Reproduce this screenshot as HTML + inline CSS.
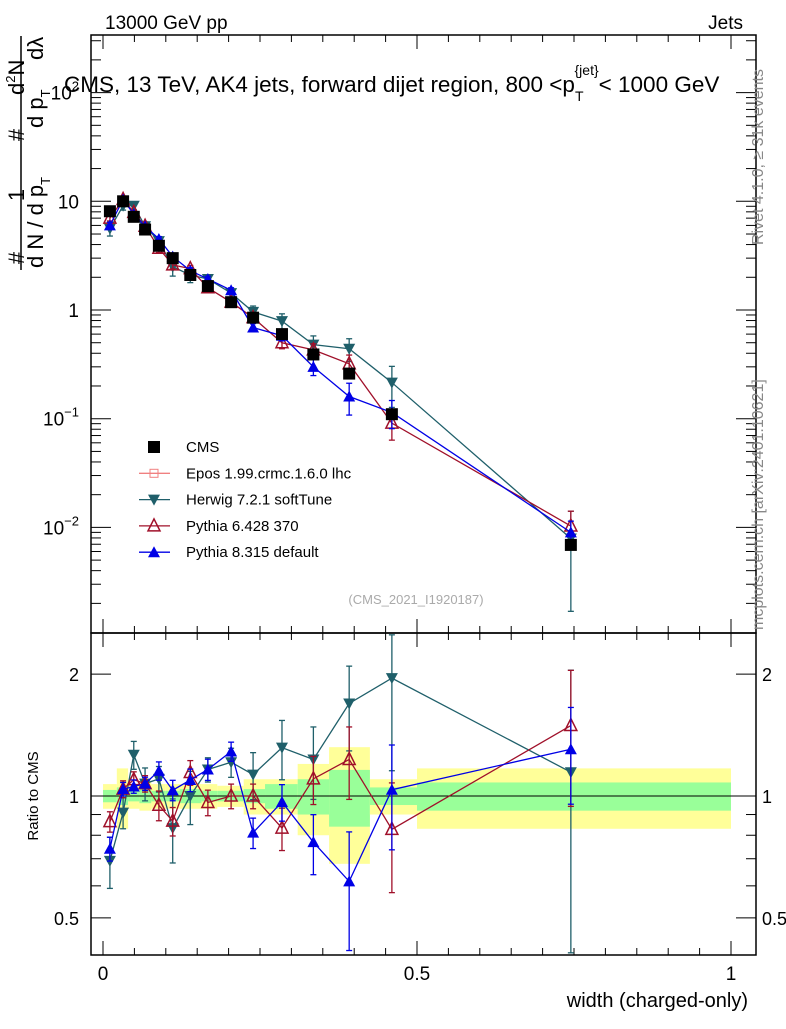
<!DOCTYPE html>
<html><head><meta charset="utf-8"><style>
body{margin:0;background:#fff}
svg text{font-family:"Liberation Sans",sans-serif}
</style></head><body>
<svg id="c" width="786" height="1024" viewBox="0 0 786 1024" xmlns="http://www.w3.org/2000/svg">
<rect width="786" height="1024" fill="#fff"/>
<g id="bands"></g>
<g id="axes"></g>
<g id="marks"></g>
<text x="105" y="29" font-size="19">13000 GeV pp</text>
<text x="743" y="29" font-size="19" text-anchor="end">Jets</text>
<text x="64" y="92" font-size="22.5">CMS, 13 TeV, AK4 jets, forward dijet region, 800 &lt;p<tspan font-size="14" dy="9">T</tspan><tspan font-size="14" dy="-26" dx="-9">{jet}</tspan><tspan dy="17">&lt; 1000 GeV</tspan></text>
<text transform="translate(763,245) rotate(-90)" font-size="16" fill="#888">Rivet 4.1.0, ≥ 31k events</text>
<text transform="translate(763,630) rotate(-90)" font-size="16" fill="#888">mcplots.cern.ch [arXiv:2401.10621]</text>
<text x="416" y="604" font-size="13" fill="#aaa" text-anchor="middle">(CMS_2021_I1920187)</text>
<g>
<text transform="translate(24,258) rotate(-90)" font-size="22" text-anchor="middle">#</text>
<text transform="translate(24,195) rotate(-90)" font-size="22" text-anchor="middle">1</text>
<text transform="translate(24,135) rotate(-90)" font-size="22" text-anchor="middle">#</text>
<text transform="translate(24,95) rotate(-90)" font-size="22">d<tspan font-size="13" dy="-9">2</tspan><tspan dy="9">N</tspan></text>
<line x1="21" y1="270" x2="21" y2="36" stroke="#000" stroke-width="1.5"/>
<text transform="translate(43,268) rotate(-90)" font-size="22">d N / d p<tspan font-size="13" dy="7">T</tspan></text>
<text transform="translate(43,128) rotate(-90)" font-size="22">d p<tspan font-size="13" dy="7">T</tspan></text>
<text transform="translate(43,60) rotate(-90)" font-size="22">dλ</text>
</g>
<text transform="translate(38,796) rotate(-90)" font-size="15" text-anchor="middle">Ratio to CMS</text>
<text x="748" y="1007" font-size="20" text-anchor="end">width (charged-only)</text>
<g id="legend"></g>
</svg>
<script>
const xCenters=[0.011,0.032,0.049,0.067,0.089,0.111,0.139,0.167,0.204,0.239,0.285,0.335,0.392,0.46,0.745];
const binEdges=[0,0.022,0.04,0.058,0.077,0.1,0.122,0.157,0.182,0.224,0.258,0.31,0.36,0.425,0.5,1.0];
const cms=[8.1,10,7.2,5.5,3.9,3.0,2.1,1.66,1.18,0.85,0.6,0.39,0.26,0.11,0.0069];
const herwig=[5.6,9.1,9.1,5.9,4.3,2.5,2.1,1.93,1.43,0.96,0.79,0.48,0.44,0.215,0.0079];
const pythia6=[7.0,10.4,7.9,5.9,3.7,2.6,2.4,1.6,1.18,0.85,0.50,0.43,0.32,0.091,0.0103];
const pythia8=[6.0,10.4,7.6,5.9,4.5,3.1,2.3,1.93,1.52,0.69,0.58,0.30,0.16,0.114,0.009];
const herwigErr=[0.1,0.08,0.1,0.1,0.08,0.15,0.15,0.08,0.1,0.15,0.22,0.25,0.4,0.8,0.9];
const pythia6Err=[0.05,0.05,0.05,0.05,0.08,0.07,0.08,0.07,0.07,0.07,0.1,0.15,0.25,0.25,0.55];
const pythia8Err=[0.05,0.04,0.04,0.04,0.06,0.06,0.07,0.07,0.07,0.07,0.1,0.13,0.2,0.3,0.35];
const bandYellow=[0.07,0.17,0.07,0.08,0.07,0.07,0.07,0.07,0.06,0.1,0.1,0.2,0.32,0.1,0.17];
const bandGreen=[0.035,0.05,0.03,0.04,0.03,0.03,0.04,0.03,0.03,0.04,0.07,0.1,0.16,0.05,0.08];
const mainTicks=["10^-2","10^-1","1","10","10^2"];
const ratioTicks=["0.5","1","2"];
const xTicks=["0","0.5","1"];

const NS="http://www.w3.org/2000/svg";
const L=91,R=756,T=35,MB=633,B=955;
const X=v=>103+v*628;
const Y=v=>310-Math.log10(v)*108.7;
const YR=v=>796-Math.log10(v)*405;
function mk(p,tag,a){const e=document.createElementNS(NS,tag);for(const k in a)e.setAttribute(k,a[k]);p.appendChild(e);return e;}
const axes=document.getElementById('axes'),marks=document.getElementById('marks'),bands=document.getElementById('bands'),leg=document.getElementById('legend');

for(let i=0;i<cms.length;i++){
  const x0=X(binEdges[i]),x1=X(binEdges[i+1]);
  let r=mk(bands,'rect',{x:x0,y:YR(1+bandYellow[i]),width:x1-x0,height:YR(1-bandYellow[i])-YR(1+bandYellow[i]),fill:'#ffff99'});
  
  
  r=mk(bands,'rect',{x:x0,y:YR(1+bandGreen[i]),width:x1-x0,height:YR(1-bandGreen[i])-YR(1+bandGreen[i]),fill:'#99ff99'});
  
  
}
let f=mk(axes,'rect',{x:L,y:T,width:R-L,height:MB-T,fill:'none',stroke:'#000','stroke-width':1.5});


f=mk(axes,'rect',{x:L,y:MB,width:R-L,height:B-MB,fill:'none',stroke:'#000','stroke-width':1.5});


mk(axes,'line',{x1:L,x2:R,y1:YR(1),y2:YR(1),stroke:'#000','stroke-width':1});
for(let v=0;v<=1.0001;v+=0.05){
  const big=Math.abs(v*10-Math.round(v*10))<1e-6&&Math.round(v*10)%5==0;
  const len=big?14:7;
  [[MB,-1],[B,-1],[T,1],[MB,1]].forEach(([y,d])=>mk(axes,'line',{x1:X(v),x2:X(v),y1:y,y2:y+d*len,stroke:'#000'}));
}
xTicks.forEach(t=>{const e=mk(axes,'text',{x:X(parseFloat(t)),y:980,'font-size':19,'text-anchor':'middle'});e.textContent=t;

});
for(let d=-3;d<=2;d++)for(let m=1;m<10;m++){const v=m*Math.pow(10,d),y=Y(v);if(y<T||y>MB)continue;const len=m==1?20:10;
mk(axes,'line',{x1:L,x2:L+len,y1:y,y2:y,stroke:'#000'});mk(axes,'line',{x1:R,x2:R-len,y1:y,y2:y,stroke:'#000'});}
mainTicks.forEach(t=>{const v=t.includes('^')?Math.pow(10,+t.split('^')[1]):+t;const e=mk(axes,'text',{x:79,y:Y(v)+7,'font-size':19,'text-anchor':'end'});
if(t.includes('^')){e.textContent='10';const s=mk(e,'tspan',{dy:-9,'font-size':13});s.textContent=t.split('^')[1].replace('-','−');}else e.textContent=t;

});
[0.5,0.6,0.7,0.8,0.9,1,2].forEach(v=>{const len=(v==0.5||v==1||v==2)?20:10;const y=YR(v);
mk(axes,'line',{x1:L,x2:L+len,y1:y,y2:y,stroke:'#000'});mk(axes,'line',{x1:R,x2:R-len,y1:y,y2:y,stroke:'#000'});});
ratioTicks.forEach(t=>{[[79,'end'],[762,'start']].forEach(([x,a])=>{const e=mk(axes,'text',{x:x,y:YR(+t)+7,'font-size':18,'text-anchor':a});e.textContent=t;

});});

function marker(g,type,x,y,col){
  if(type=='sq')return mk(g,'rect',{x:x-6,y:y-6,width:12,height:12,fill:col});
  if(type=='down')return mk(g,'polygon',{points:`${x-6},${y-5} ${x+6},${y-5} ${x},${y+6}`,fill:col});
  if(type=='up')return mk(g,'polygon',{points:`${x-6},${y+5} ${x+6},${y+5} ${x},${y-6}`,fill:col});
  if(type=='open')return mk(g,'polygon',{points:`${x-6},${y+5} ${x+6},${y+5} ${x},${y-7}`,fill:'none',stroke:col,'stroke-width':1.5});
}
const series=[
 {name:'herwig',vals:herwig,err:herwigErr,col:'#1f5f6a',type:'down'},
 {name:'pythia6',vals:pythia6,err:pythia6Err,col:'#a0102a',type:'open'},
 {name:'pythia8',vals:pythia8,err:pythia8Err,col:'#0000e6',type:'up'}];
series.forEach(s=>{
  const g=mk(marks,'g',{});
  
  
  let p='',pr='';
  s.vals.forEach((v,i)=>{p+=(i?'L':'M')+X(xCenters[i])+','+Y(v);pr+=(i?'L':'M')+X(xCenters[i])+','+YR(v/cms[i]);});
  mk(g,'path',{d:p,fill:'none',stroke:s.col,'stroke-width':1.3});
  mk(g,'path',{d:pr,fill:'none',stroke:s.col,'stroke-width':1.3});
  s.vals.forEach((v,i)=>{
    const x=X(xCenters[i]),r=v/cms[i],e=s.err[i];
    const lo=Math.max(r-e,0.41);
    [[Y(v*(1+e/r)),Y(Math.max(v*(1-e/r),1e-4))],[YR(Math.min(r+e,2.5)),YR(lo)]].forEach(([a,b])=>{
      mk(g,'line',{x1:x,x2:x,y1:a,y2:b,stroke:s.col,'stroke-width':1.3});
      mk(g,'line',{x1:x-3,x2:x+3,y1:a,y2:a,stroke:s.col,'stroke-width':1.3});
      mk(g,'line',{x1:x-3,x2:x+3,y1:b,y2:b,stroke:s.col,'stroke-width':1.3});});
    let m=marker(g,s.type,x,Y(v),s.col);
    
    
    m=marker(g,s.type,x,YR(r),s.col);
    
    
  });
});
cms.forEach((v,i)=>{const m=marker(marks,'sq',X(xCenters[i]),Y(v),'#000');

});
const legItems=[['CMS','sq','#000'],['Epos 1.99.crmc.1.6.0 lhc','epos','#f08080'],['Herwig 7.2.1 softTune','down','#1f5f6a'],['Pythia 6.428 370','open','#a0102a'],['Pythia 8.315 default','up','#0000e6']];
legItems.forEach((it,i)=>{const y=447+i*26.3;const g=mk(leg,'g',{});


if(it[1]!='sq')mk(g,'line',{x1:139,x2:170,y1:y,y2:y,stroke:it[2],'stroke-width':1.3});
if(it[1]=='epos'){mk(g,'rect',{x:150,y:y-4,width:8,height:8,fill:'none',stroke:it[2]});}
else marker(g,it[1],154,y,it[2]);
const t=mk(g,'text',{x:186,y:y+5,'font-size':15});t.textContent=it[0];});
</script>
</body></html>
